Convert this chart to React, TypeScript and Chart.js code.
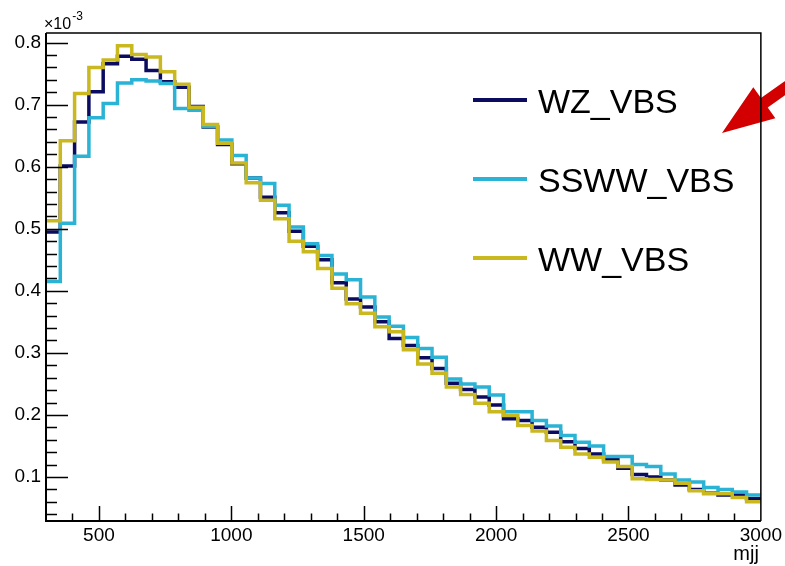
import React, { useEffect, useRef } from "react";
import { Chart, registerables } from "chart.js";

Chart.register(...registerables);

// Histogram binning: 50 bins of width 54 between 300 and 3000 (mjj)
const BIN_EDGES = [
  300, 354, 408, 462, 516, 570, 624, 678, 732, 786, 840, 894, 948, 1002, 1056,
  1110, 1164, 1218, 1272, 1326, 1380, 1434, 1488, 1542, 1596, 1650, 1704, 1758,
  1812, 1866, 1920, 1974, 2028, 2082, 2136, 2190, 2244, 2298, 2352, 2406, 2460,
  2514, 2568, 2622, 2676, 2730, 2784, 2838, 2892, 2946, 3000,
];

// Bin contents in units of 10^-3
const WZ_VBS = [
  0.495, 0.601, 0.672, 0.721, 0.766, 0.778, 0.773, 0.755, 0.737, 0.728,
  0.697, 0.664, 0.636, 0.605, 0.582, 0.551, 0.526, 0.496, 0.472, 0.45,
  0.413, 0.387, 0.374, 0.35, 0.323, 0.312, 0.292, 0.275, 0.251, 0.241,
  0.229, 0.216, 0.194, 0.191, 0.18, 0.172, 0.157, 0.146, 0.137, 0.128,
  0.114, 0.104, 0.1, 0.095, 0.087, 0.08, 0.074, 0.071, 0.071, 0.065,
];

const SSWW_VBS = [
  0.415, 0.509, 0.617, 0.679, 0.702, 0.735, 0.74, 0.738, 0.734, 0.694,
  0.691, 0.665, 0.643, 0.618, 0.582, 0.573, 0.538, 0.503, 0.476, 0.457,
  0.427, 0.418, 0.39, 0.358, 0.343, 0.325, 0.307, 0.293, 0.258, 0.25,
  0.245, 0.232, 0.205, 0.205, 0.191, 0.182, 0.167, 0.156, 0.15, 0.133,
  0.133, 0.12, 0.117, 0.105, 0.095, 0.092, 0.083, 0.08, 0.076, 0.071,
];

const WW_VBS = [
  0.513, 0.642, 0.718, 0.76, 0.772, 0.795, 0.781, 0.777, 0.753, 0.733,
  0.696, 0.668, 0.638, 0.606, 0.574, 0.546, 0.516, 0.48, 0.463, 0.436,
  0.404, 0.379, 0.364, 0.342, 0.334, 0.305, 0.282, 0.267, 0.245, 0.233,
  0.219, 0.205, 0.199, 0.183, 0.174, 0.159, 0.148, 0.137, 0.132, 0.124,
  0.117, 0.097, 0.096, 0.095, 0.09, 0.078, 0.073, 0.073, 0.067, 0.06,
];

const SERIES_NAMES = ["WZ_VBS", "SSWW_VBS", "WW_VBS"];
const SERIES_VALUES = [WZ_VBS, SSWW_VBS, WW_VBS];
const SERIES_COLORS = ["#0b0b60", "#2ab3d4", "#c9b81f"];

const X_TICKS = [500, 1000, 1500, 2000, 2500, 3000];
const Y_TICKS = [0.1, 0.2, 0.3, 0.4, 0.5, 0.6, 0.7, 0.8];
const X_MIN = 300;
const X_MAX = 3000;
const Y_MIN = 0.0291;
const Y_MAX = 0.8155;
const X_TITLE = "mjj";
const Y_EXP = "-3";

const FONT = "'Liberation Sans', Arial, Helvetica, sans-serif";

function toSteps(vals: number[]) {
  return BIN_EDGES.map((e, i) => ({ x: e, y: vals[Math.min(i, vals.length - 1)] }));
}

const rootDecor = {
  id: "rootDecor",
  afterDraw(chart: any) {
    const { ctx, chartArea: a, scales } = chart;
    const x = scales.x;
    const y = scales.y;
    ctx.save();

    // ticks (ROOT style: inward)
    ctx.strokeStyle = "#000";
    ctx.lineWidth = 1.5;
    ctx.beginPath();
    for (let k = 4; k < 30; k++) {
      const v = k * 100;
      const px = Math.round(x.getPixelForValue(v)) + 0.5;
      const len = v % 500 === 0 ? 15 : 7.5;
      ctx.moveTo(px, a.bottom);
      ctx.lineTo(px, a.bottom - len);
    }
    for (let k = 2; k <= 40; k++) {
      const v = k * 0.02;
      if (v < Y_MIN || v > Y_MAX) continue;
      const py = Math.round(y.getPixelForValue(v)) + 0.5;
      const len = k % 5 === 0 ? 22 : 11;
      ctx.moveTo(a.left, py);
      ctx.lineTo(a.left + len, py);
    }
    ctx.stroke();

    // legend
    const legendY = [100, 179, 258];
    SERIES_NAMES.forEach((name, i) => {
      ctx.strokeStyle = SERIES_COLORS[i];
      ctx.lineWidth = 4;
      ctx.beginPath();
      ctx.moveTo(473, legendY[i]);
      ctx.lineTo(527, legendY[i]);
      ctx.stroke();
      ctx.fillStyle = "#000";
      ctx.font = `34px ${FONT}`;
      ctx.textAlign = "left";
      ctx.textBaseline = "alphabetic";
      ctx.fillText(name, 538, legendY[i] + 13);
    });

    // red arrow
    const tip = { x: 722, y: 133 };
    const u = { x: 0.814, y: -0.581 };
    const p = { x: 0.581, y: 0.814 };
    const headLen = 52;
    const headHW = 19;
    const shaftHW = 5.8;
    const tailLen = 130;
    const base = { x: tip.x + u.x * headLen, y: tip.y + u.y * headLen };
    const tail = { x: tip.x + u.x * tailLen, y: tip.y + u.y * tailLen };
    ctx.fillStyle = "#d20000";
    ctx.beginPath();
    ctx.moveTo(tip.x, tip.y);
    ctx.lineTo(base.x + p.x * headHW, base.y + p.y * headHW);
    ctx.lineTo(base.x + p.x * shaftHW, base.y + p.y * shaftHW);
    ctx.lineTo(tail.x + p.x * shaftHW, tail.y + p.y * shaftHW);
    ctx.lineTo(tail.x - p.x * shaftHW, tail.y - p.y * shaftHW);
    ctx.lineTo(base.x - p.x * shaftHW, base.y - p.y * shaftHW);
    ctx.lineTo(base.x - p.x * headHW, base.y - p.y * headHW);
    ctx.closePath();
    ctx.fill();

    // frame
    ctx.strokeStyle = "#000";
    ctx.lineWidth = 1.5;
    ctx.beginPath();
    ctx.moveTo(a.left, a.top);
    ctx.lineTo(a.right, a.top);
    ctx.lineTo(a.right, a.bottom);
    ctx.stroke();
    ctx.lineWidth = 2;
    ctx.beginPath();
    ctx.moveTo(a.left, a.top);
    ctx.lineTo(a.left, a.bottom);
    ctx.lineTo(a.right, a.bottom);
    ctx.stroke();

    // axis title
    ctx.fillStyle = "#000";
    ctx.font = `20px ${FONT}`;
    ctx.textAlign = "right";
    ctx.textBaseline = "alphabetic";
    ctx.fillText(X_TITLE, a.right - 2, 560);

    // exponent label
    ctx.textAlign = "left";
    ctx.font = `16px ${FONT}`;
    ctx.fillText("\u00d710", 44, 29);
    const w = ctx.measureText("\u00d710").width;
    ctx.font = `12px ${FONT}`;
    ctx.fillText(Y_EXP, 44 + w + 1, 20);

    ctx.restore();
  },
};

export default function App() {
  const canvasRef = useRef<HTMLCanvasElement | null>(null);

  useEffect(() => {
    const canvas = canvasRef.current;
    if (!canvas) return;
    const datasets = SERIES_NAMES.map((name, i) => ({
      label: name,
      data: toSteps(SERIES_VALUES[i]),
      borderColor: SERIES_COLORS[i],
      backgroundColor: SERIES_COLORS[i],
      borderWidth: 3.5,
      stepped: "before" as const,
      pointRadius: 0,
      fill: false,
      borderJoinStyle: "miter" as const,
      borderCapStyle: "butt" as const,
      order: 3 - i,
    }));
    const chart = new Chart(canvas, {
      type: "line",
      data: { datasets },
      options: {
        responsive: false,
        animation: false,
        layout: { padding: { top: 33, right: 24, left: 0, bottom: 0 } },
        plugins: { legend: { display: false }, tooltip: { enabled: false } },
        scales: {
          x: {
            type: "linear",
            min: X_MIN,
            max: X_MAX,
            afterBuildTicks: (s: any) => {
              s.ticks = X_TICKS.map((v) => ({ value: v }));
            },
            afterFit: (s: any) => {
              s.height = 45;
            },
            grid: { display: false, drawTicks: false },
            border: { display: false },
            ticks: {
              color: "#000",
              font: { family: FONT, size: 19 },
              padding: 3,
              maxRotation: 0,
              autoSkip: false,
              callback: (v: any) => String(v),
            },
          },
          y: {
            type: "linear",
            min: Y_MIN,
            max: Y_MAX,
            afterBuildTicks: (s: any) => {
              s.ticks = Y_TICKS.map((v) => ({ value: v }));
            },
            afterFit: (s: any) => {
              s.width = 46;
            },
            grid: { display: false, drawTicks: false },
            border: { display: false },
            ticks: {
              color: "#000",
              font: { family: FONT, size: 19 },
              padding: 5,
              autoSkip: false,
              callback: (v: any) => Number(v).toFixed(1),
            },
          },
        },
      },
      plugins: [rootDecor],
    });
    return () => chart.destroy();
  }, []);

  return (
    <div style={{ position: "absolute", left: 0, top: 0, width: 785, height: 566, background: "#fff" }}>
      <canvas ref={canvasRef} width={785} height={566} style={{ display: "block" }} />
    </div>
  );
}
